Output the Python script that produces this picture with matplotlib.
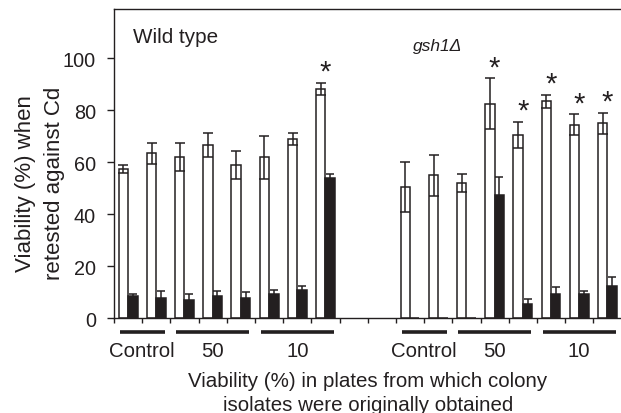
import numpy as np
import matplotlib
matplotlib.use("Agg")
import matplotlib.pyplot as plt
import matplotlib.transforms as mtransforms

plt.rcParams['font.family'] = ['Liberation Sans', 'DejaVu Sans']

# viability (%) when retested against Cd, mean and error
wt_white = [57.5, 63.5, 62, 66.5, 59, 62, 69, 88.3]
wt_white_err = [1.5, 4, 5.4, 4.6, 5.5, 8.3, 2.4, 2.3]
wt_black = [8.5, 8, 7, 8.5, 8, 9.5, 11, 54]
wt_black_err = [1, 2.5, 2.5, 2, 2, 1.5, 1.5, 1.5]
wt_sig = [0, 0, 0, 0, 0, 0, 0, 1]

gsh_white = [50.5, 55, 52, 82.5, 70.5, 83.5, 74.5, 75]
gsh_white_err = [9.5, 8, 3.5, 9.8, 5, 2.5, 4, 4]
gsh_black = [0, 0, 0, 47.5, 5.5, 9.5, 9.5, 12.5]
gsh_black_err = [0, 0, 0, 7, 2, 2.5, 1, 3.5]
gsh_sig = [0, 0, 0, 1, 1, 1, 1, 1]

group_names = ['Control', '50', '10']
group_sizes = [2, 3, 3]

ink = '#231f20'

fig = plt.figure(figsize=(6.21, 4.14), dpi=100)
ax = fig.add_axes([114/621, (414-319.3)/414, 507.5/621, 309.3/414])

x_wt = np.arange(8)
x_gsh = np.arange(10, 18)
w = 0.335

def draw(x, white, white_err, black, black_err, sig):
    black = np.array(black, float)
    black_err = np.array(black_err, float)
    ax.bar(x - w/2, white, w, color='white', edgecolor=ink, linewidth=1.1, zorder=2)
    ax.bar(x + w/2, black, w, color=ink, edgecolor=ink, linewidth=1.1, zorder=2)
    ax.errorbar(x - w/2, white, yerr=white_err, fmt='none', ecolor=ink,
                elinewidth=1.1, capsize=3.4, capthick=1.1, zorder=3)
    m = black > 0
    ax.errorbar((x + w/2)[m], black[m], yerr=black_err[m], fmt='none', ecolor=ink,
                elinewidth=1.1, capsize=3.0, capthick=1.1, zorder=3)
    for xi, v, e, s in zip(x, white, white_err, sig):
        if s:
            ax.text(xi, v + e + 1.2, '*', ha='center', va='baseline', fontsize=21, color=ink)

draw(x_wt, wt_white, wt_white_err, wt_black, wt_black_err, wt_sig)
draw(x_gsh, gsh_white, gsh_white_err, gsh_black, gsh_black_err, gsh_sig)

ax.set_xlim(-0.5, 17.5)
ax.set_ylim(0, 119)
ax.set_yticks([0, 20, 40, 60, 80, 100])
ax.set_xticks(np.arange(-0.5, 18, 1))
ax.set_xticklabels([])
ax.tick_params(axis='y', direction='out', length=5, width=1, pad=8, labelsize=14.3, colors=ink)
ax.tick_params(axis='x', direction='out', length=3.5, width=1, colors=ink)
for s in ['left', 'bottom', 'top']:
    ax.spines[s].set_linewidth(1.0)
    ax.spines[s].set_color(ink)
ax.spines['right'].set_visible(False)

# group bars and labels under the axis
trans = mtransforms.blended_transform_factory(ax.transData, ax.transAxes)
for start in [0, 10]:
    pos = start
    for name, n in zip(group_names, group_sizes):
        a, b = pos - 0.5 + 0.2, pos + n - 0.5 - 0.2
        ax.plot([a, b], [-0.044, -0.044], transform=trans, clip_on=False,
                color=ink, lw=2.6, solid_capstyle='butt')
        ax.text((a + b) / 2, -0.105, name, transform=trans, ha='center', va='center',
                fontsize=14.7, color=ink)
        pos += n

ax.text(0.174, 106.3, 'Wild type', fontsize=14.9, color=ink, va='baseline')
ax.text(10.1, 103.2, 'gsh1Δ', fontsize=12.5, style='italic', color=ink, va='baseline')

ax.set_xlabel('Viability (%) in plates from which colony\nisolates were originally obtained',
              fontsize=14.8, color=ink, va='center', linespacing=1.35)
ax.xaxis.set_label_coords(0.5, -0.24)
ax.set_ylabel('Viability (%) when\nretested against Cd', fontsize=16, color=ink,
              va='center', linespacing=1.5)
ax.yaxis.set_label_coords(-0.146, 0.44)

fig.savefig('out.png', dpi=100)
